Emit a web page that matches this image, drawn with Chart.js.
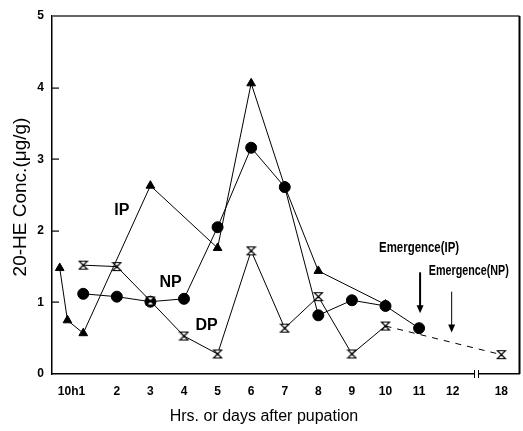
<!DOCTYPE html>
<html>
<head>
<meta charset="utf-8">
<script src="https://cdn.jsdelivr.net/npm/chart.js@4"></script>
<style>
html, body { margin: 0; padding: 0; background: #fff; overflow: hidden; }
#wrap { width: 523px; height: 431px; overflow: hidden; }
</style>
</head>
<body>
<div id="wrap"><canvas id="chart" width="526" height="431"></canvas></div>
<script>
// IP series (triangles)
const ipX = [0.3, 0.53, 1, 3, 5, 6, 7, 8, 10];
const ipY = [1.48, 0.75, 0.57, 2.63, 1.76, 4.06, 2.62, 1.44, 0.97];
// NP series (filled circles)
const npX = [1, 2, 3, 4, 5, 6, 7, 8, 9, 10, 11];
const npY = [1.12, 1.08, 1.01, 1.05, 2.05, 3.16, 2.61, 0.82, 1.03, 0.95, 0.64];
// DP series (hourglass), last point is day 18 placed after the axis break
const dpX = [1, 2, 3, 4, 5, 6, 7, 8, 9, 10, 13.45];
const dpY = [1.52, 1.50, 1.02, 0.53, 0.28, 1.72, 0.64, 1.08, 0.28, 0.67, 0.27];
// x tick labels
const tickPos = [0.65, 2, 3, 4, 5, 6, 7, 8, 9, 10, 11, 12, 13.45];
const tickText = ['10h1', '2', '3', '4', '5', '6', '7', '8', '9', '10', '11', '12', '18'];

const toXY = (xs, ys) => xs.map((x, i) => ({ x: x, y: ys[i] }));
const FONT = '"Liberation Sans", Arial, sans-serif';

// hourglass marker
const hg = document.createElement('canvas');
hg.width = 11; hg.height = 11;
(function () {
  const c = hg.getContext('2d');
  c.fillStyle = '#fff';
  c.beginPath();
  c.moveTo(1.5, 1.5); c.lineTo(9.5, 1.5); c.lineTo(5.5, 5.5);
  c.lineTo(9.5, 9.5); c.lineTo(1.5, 9.5); c.lineTo(5.5, 5.5); c.closePath();
  c.fill();
  c.strokeStyle = '#000';
  c.lineWidth = 1.2;
  c.stroke();
})();

const extras = {
  id: 'extras',
  afterDraw(chart) {
    const ctx = chart.ctx;
    const xs = chart.scales.x, ys = chart.scales.y;
    const L = xs.left, R = xs.right, T = ys.top, B = ys.bottom;
    ctx.save();
    ctx.setLineDash([]);
    // frame: top (grey) and right (black)
    ctx.fillStyle = '#666';
    ctx.fillRect(L, T - 1, R - L, 2);
    ctx.fillStyle = '#000';
    ctx.fillRect(R - 1, T, 2, B - T);
    // inward y ticks
    for (let v = 1; v <= 4; v++) {
      const py = Math.round(ys.getPixelForValue(v));
      ctx.fillRect(L, py - 0.5, 7, 1.2);
    }
    // axis break
    ctx.strokeStyle = '#000';
    ctx.lineWidth = 1;
    const bx = xs.getPixelForValue(12.71);
    ctx.fillStyle = '#fff';
    ctx.fillRect(bx - 2, B - 3, 4, 6);
    ctx.fillStyle = '#000';
    ctx.fillRect(bx - 2.5, B - 4, 1, 8);
    ctx.fillRect(bx + 1.5, B - 4, 1, 8);
    // series labels
    ctx.font = 'bold 16px ' + FONT;
    ctx.textAlign = 'center';
    ctx.textBaseline = 'middle';
    ctx.fillText('IP', xs.getPixelForValue(2.15), ys.getPixelForValue(2.28));
    ctx.fillText('NP', xs.getPixelForValue(3.6), ys.getPixelForValue(1.27));
    ctx.fillText('DP', xs.getPixelForValue(4.67), ys.getPixelForValue(0.68));
    // emergence notes (condensed)
    const narrow = (txt, cx, cy, w) => {
      ctx.save();
      ctx.font = 'bold 14px ' + FONT;
      const m = ctx.measureText(txt).width;
      ctx.translate(cx, cy);
      ctx.scale(w / m, 1);
      ctx.fillText(txt, 0, 0);
      ctx.restore();
    };
    narrow('Emergence(IP)', xs.getPixelForValue(11.0), ys.getPixelForValue(1.76), 80);
    narrow('Emergence(NP)', xs.getPixelForValue(12.48), ys.getPixelForValue(1.43), 80);
    // arrows
    const arrow = (v, y1, y2) => {
      const px = xs.getPixelForValue(v);
      const p1 = ys.getPixelForValue(y1), p2 = ys.getPixelForValue(y2);
      ctx.beginPath(); ctx.moveTo(px, p1); ctx.lineTo(px, p2 - 6); ctx.stroke();
      ctx.beginPath();
      ctx.moveTo(px - 3.5, p2 - 8); ctx.lineTo(px + 3.5, p2 - 8); ctx.lineTo(px, p2); ctx.closePath();
      ctx.fill();
    };
    ctx.lineWidth = 2;
    arrow(11.03, 1.42, 0.85);
    ctx.lineWidth = 1;
    arrow(11.97, 1.15, 0.58);
    // axis titles
    ctx.font = '16px ' + FONT;
    ctx.fillText('Hrs. or days after pupation', 264, 417);
    ctx.translate(21, 197);
    ctx.rotate(-Math.PI / 2);
    ctx.font = '19px ' + FONT;
    ctx.fillText('20-HE Conc.(\u03BCg/g)', 0, 0);
    ctx.restore();
  }
};

new Chart(document.getElementById('chart').getContext('2d'), {
  type: 'line',
  data: {
    datasets: [
      {
        label: 'IP',
        data: toXY(ipX, ipY),
        borderColor: '#000',
        borderWidth: 1,
        pointStyle: 'triangle',
        pointRadius: 5,
        pointBackgroundColor: '#000',
        pointBorderColor: '#000',
        tension: 0
      },
      {
        label: 'DP',
        data: toXY(dpX, dpY),
        borderColor: '#000',
        borderWidth: 1,
        pointStyle: hg,
        pointRadius: 5,
        tension: 0,
        segment: { borderDash: c => (c.p0.parsed.x >= 10 ? [6, 6] : undefined) }
      },
      {
        label: 'NP',
        data: toXY(npX, npY),
        borderColor: '#000',
        borderWidth: 1,
        pointStyle: 'circle',
        pointRadius: 5.5,
        pointBackgroundColor: '#000',
        pointBorderColor: '#000',
        tension: 0
      }
    ]
  },
  options: {
    responsive: false,
    animation: false,
    layout: { padding: { top: 16, right: 2, left: 0, bottom: 0 } },
    plugins: { legend: { display: false }, tooltip: { enabled: false } },
    scales: {
      x: {
        type: 'linear',
        min: 0.07,
        max: 13.99,
        grid: { display: false, drawTicks: false, tickLength: 0 },
        border: { display: true, color: '#000', width: 1.5 },
        afterFit: s => { s.height = 57; s.paddingLeft = 0; s.paddingRight = 0; },
        afterBuildTicks: s => { s.ticks = tickPos.map(v => ({ value: v })); },
        ticks: {
          autoSkip: false,
          maxRotation: 0,
          padding: 10,
          color: '#000',
          font: { family: FONT, size: 12, weight: 'bold' },
          callback: (v, i) => tickText[i]
        }
      },
      y: {
        min: 0,
        max: 5,
        grid: { display: false, drawTicks: false, tickLength: 0 },
        border: { display: true, color: '#000', width: 1.5 },
        afterFit: s => { s.width = 52; s.paddingTop = 0; s.paddingBottom = 0; },
        ticks: {
          stepSize: 1,
          padding: 8,
          color: '#000',
          font: { family: FONT, size: 12, weight: 'bold' }
        }
      }
    }
  },
  plugins: [extras]
});
</script>
</body>
</html>
